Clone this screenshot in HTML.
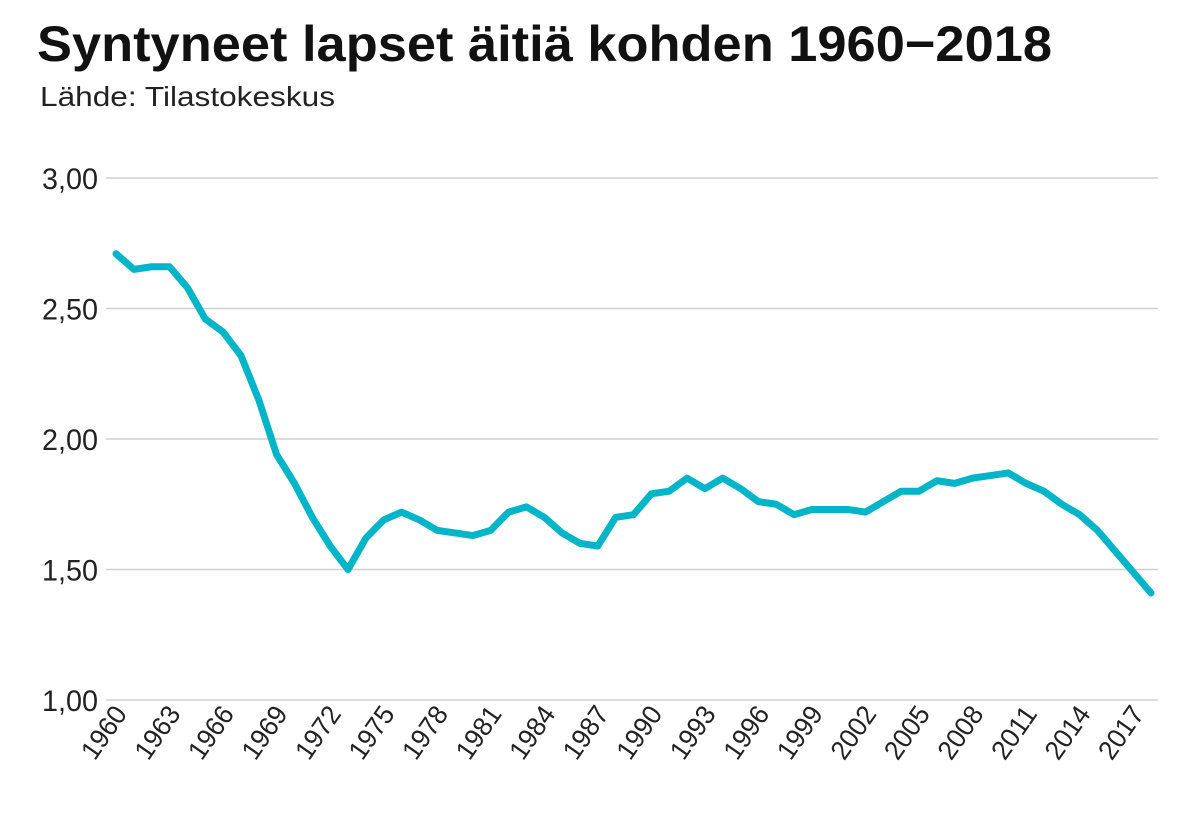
<!DOCTYPE html>
<html><head><meta charset="utf-8"><style>
body{margin:0;background:#fff;width:1198px;height:815px;overflow:hidden}
svg{display:block;font-family:"Liberation Sans",sans-serif}
</style></head><body>
<svg width="1198" height="815">
<text x="37" y="61" font-size="50" font-weight="bold" fill="#111" textLength="1015" lengthAdjust="spacingAndGlyphs">Syntyneet lapset äitiä kohden 1960−2018</text>
<text x="40" y="106" font-size="28" fill="#222" textLength="295" lengthAdjust="spacingAndGlyphs">Lähde: Tilastokeskus</text>
<g id="grid"></g><g id="xl"></g><g id="ln"></g>
</svg>
<script>
const years=[];for(let y=1960;y<=2018;y++)years.push(y);
const values=[2.71,2.65,2.66,2.66,2.58,2.46,2.41,2.32,2.15,1.94,1.83,1.70,1.59,1.50,1.62,1.69,1.72,1.69,1.65,1.64,1.63,1.65,1.72,1.74,1.70,1.64,1.60,1.59,1.70,1.71,1.79,1.80,1.85,1.81,1.85,1.81,1.76,1.75,1.71,1.73,1.73,1.73,1.72,1.76,1.80,1.80,1.84,1.83,1.85,1.86,1.87,1.83,1.80,1.75,1.71,1.65,1.57,1.49,1.41];
const yTicks=[1.00,1.50,2.00,2.50,3.00];
const yTickLabels=["1,00","1,50","2,00","2,50","3,00"];
const xTickLabels=["1960","1963","1966","1969","1972","1975","1978","1981","1984","1987","1990","1993","1996","1999","2002","2005","2008","2011","2014","2017"];
const NS="http://www.w3.org/2000/svg";
const X=y=>116+(y-1960)*(1151-116)/58;
const Y=v=>700-(v-1)*(522/2);
const grid=document.getElementById('grid');
yTicks.forEach((t,i)=>{
 const l=document.createElementNS(NS,'line');
 l.setAttribute('x1',106);l.setAttribute('x2',1158);l.setAttribute('y1',Y(t));l.setAttribute('y2',Y(t));
 l.setAttribute('stroke','#d0d0d0');l.setAttribute('stroke-width','1.5');
 
 
 grid.appendChild(l);
 const tx=document.createElementNS(NS,'text');
 tx.setAttribute('x',98);tx.setAttribute('y',Y(t)+11);tx.setAttribute('text-anchor','end');
 tx.setAttribute('font-size','30');tx.setAttribute('fill','#222');
 tx.setAttribute('textLength','56');tx.setAttribute('lengthAdjust','spacingAndGlyphs');
 tx.textContent=yTickLabels[i];
 
 
 grid.appendChild(tx);
});
const xl=document.getElementById('xl');
xTickLabels.forEach(s=>{
 const x=X(+s)+12, y=714;
 const tx=document.createElementNS(NS,'text');
 tx.setAttribute('x',x);tx.setAttribute('y',y);tx.setAttribute('text-anchor','end');
 tx.setAttribute('font-size','27');tx.setAttribute('fill','#222');
 tx.setAttribute('textLength','58');tx.setAttribute('lengthAdjust','spacingAndGlyphs');
 tx.setAttribute('transform','rotate(-55 '+x+' '+y+')');
 tx.textContent=s;
 
 
 xl.appendChild(tx);
});
const p=document.createElementNS(NS,'polyline');
p.setAttribute('points',values.map((v,i)=>X(years[i])+','+Y(v)).join(' '));
p.setAttribute('fill','none');p.setAttribute('stroke','#00b5c8');p.setAttribute('stroke-width','7');
p.setAttribute('stroke-linejoin','round');p.setAttribute('stroke-linecap','round');


document.getElementById('ln').appendChild(p);
</script>
</body></html>
